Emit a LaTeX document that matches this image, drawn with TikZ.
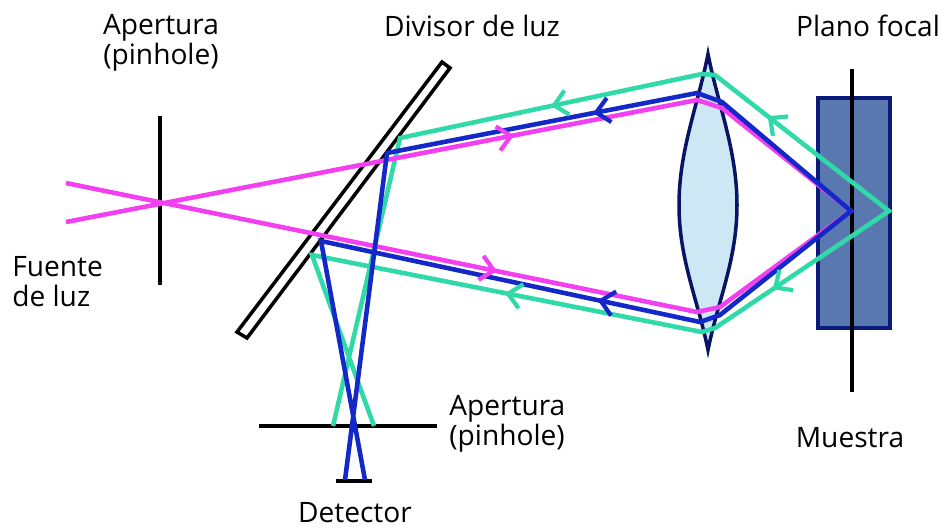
\documentclass[tikz,border=0pt]{standalone}
\usepackage{fontspec}
\setmainfont{Open Sans}
\usetikzlibrary{arrows.meta,decorations.markings}
\definecolor{raypink}{HTML}{F23FF0}
\definecolor{rayblue}{HTML}{1428C8}
\definecolor{raygreen}{HTML}{2FD9A8}
\definecolor{lensfill}{HTML}{CDE8F4}
\definecolor{lensline}{HTML}{0A1464}
\definecolor{samplefill}{HTML}{5A78B0}
\definecolor{sampleline}{HTML}{0A1A78}
\begin{document}
\begin{tikzpicture}[x=0.02cm,y=-0.02cm,
  ray/.style={line width=2.6pt},
  stopline/.style={line width=2.1pt,black},
  lbl/.style={font=\fontsize{16}{17}\selectfont,inner sep=0pt,align=center},
  tipmark/.style={postaction={decorate},decoration={markings,
    mark=at position #1 with {\arrow[line width=2.4pt]{Straight Barb[length=7.5pt,width=14pt]}}}}]
 \useasboundingbox (0,0) rectangle (944,529);
 % vertices of the rays
 \foreach \n/\x/\y in {p0/66/222,p1/697/100,p2/722/108,p3/851/211,p4/720/307,p5/697/312,p6/66/183,
   b1/697/93,b2/387/153,b3/345/480,b4/722/102,b5/720/315,b6/700/322,b7/321/241,b8/365/480,
   g0/889/211,g1/715/75,g2/702/74,g3/400/138,g4/333/426,g5/715/328,g6/702/332,g7/312/255,g8/374/426}{
   \coordinate (\n) at (\x,\y);}
 % beam splitter, sample, lens
 \draw[line width=2pt,fill=white] (442,62)--(450,68)--(247,338)--(237,332)--cycle;
 \draw[line width=2pt,draw=sampleline,fill=samplefill] (818,98) rectangle (890,328);
 \draw[line width=2pt,draw=lensline,fill=lensfill,miter limit=20] (708,54)
   .. controls (718,105) and (737,150) .. (737,205)
   .. controls (737,260) and (718,300) .. (708,350)
   .. controls (698,300) and (679,260) .. (679,205)
   .. controls (679,150) and (698,105) .. cycle;
 % stops
 \coordinate (s1) at (160,116); \coordinate (s2) at (160,285);
 \coordinate (s3) at (259,426); \coordinate (s4) at (437,426);
 \coordinate (s5) at (336,481); \coordinate (s6) at (372,481);
 \coordinate (s7) at (852,69);  \coordinate (s8) at (852,392);
 \draw[stopline] (s1)--(s2);
 \draw[stopline] (s3)--(s4);
 \draw[stopline] (s5)--(s6);
 \draw[stopline] (s7)--(s8);
 % rays
 \draw[ray,raygreen] (g4)--(g3)--(g2)--(g1)--(g0)--(g5)--(g6)--(g7)--(g8);
 \draw[ray,raypink] (p0)--(p1)--(p2)--(p3)--(p4)--(p5)--(p6);
 \draw[ray,rayblue] (b3)--(b2)--(b1)--(b4)--(p3)--(b5)--(b6)--(b7)--(b8);
 \foreach \a/\b/\c/\t in {g0/g1/raygreen/.7,g0/g5/raygreen/.67,g2/g3/raygreen/.5,g6/g7/raygreen/.505,
   b1/b2/rayblue/.335,b6/b7/rayblue/.27,p0/p1/raypink/.71,p6/p5/raypink/.683}{
   \path[ray,\c,tipmark=\t] (\a)--(\b);}
 % labels
 \node[lbl] (apertura1) at (161,43) {Apertura\\(pinhole)};
 \node[lbl,anchor=west,align=left] (fuente) at (12,282) {Fuente\\de luz};
 \node[lbl] (divisor) at (472,26) {Divisor de luz};
 \node[lbl] (plano) at (868,26) {Plano focal};
 \node[lbl,anchor=west,align=left] (apertura2) at (449,424) {Apertura\\(pinhole)};
 \node[lbl] (muestra) at (850,438) {Muestra};
 \node[lbl] (detector) at (355,513) {Detector};
\end{tikzpicture}
\end{document}
